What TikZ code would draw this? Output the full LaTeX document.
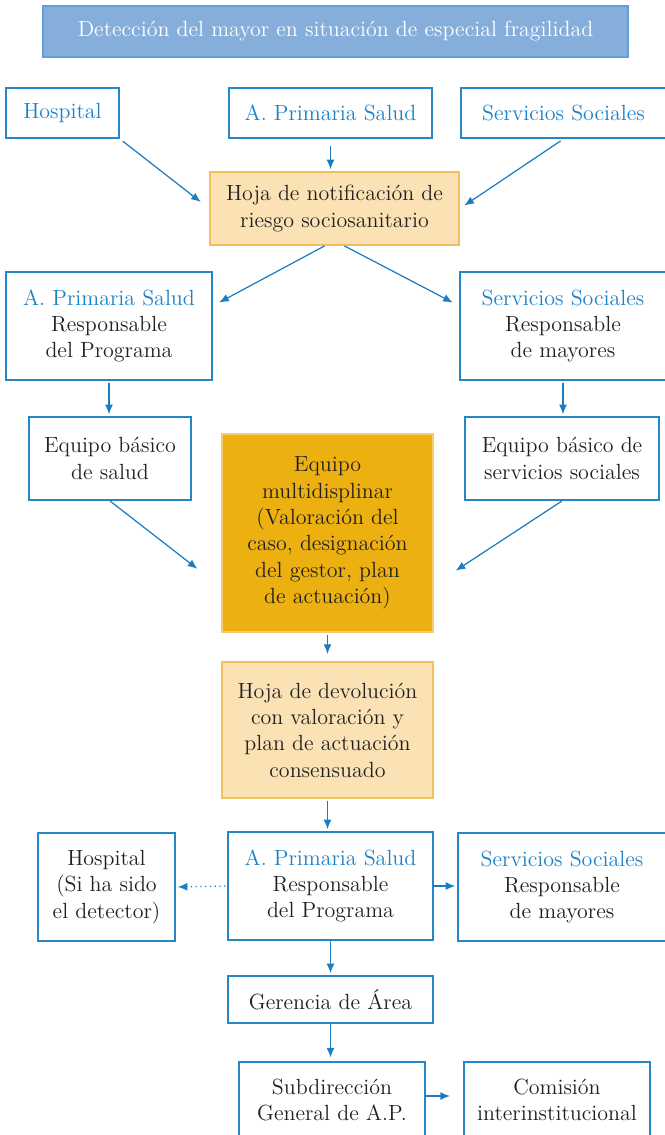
\documentclass[tikz,border=0pt]{standalone}
\usepackage{tikz}
\usetikzlibrary{calc, arrows.meta}

\definecolor{boxblue}{RGB}{38,134,201}
\definecolor{arrowblue}{RGB}{26,124,193}
\definecolor{headblue}{RGB}{26,130,200}
\definecolor{titlefill}{RGB}{134,174,219}
\definecolor{titledraw}{RGB}{95,160,215}
\definecolor{notefill}{RGB}{250,226,180}
\definecolor{notedraw}{RGB}{240,192,90}
\definecolor{teamfill}{RGB}{236,177,17}
\definecolor{teamdraw}{RGB}{248,204,110}
\definecolor{textdark}{RGB}{35,31,32}

\begin{document}
\begin{tikzpicture}[x=0.02cm, y=-0.02cm,
	every node/.style={font=\fontsize{12.5}{15}\selectfont, align=center, text=textdark, inner sep=0pt},
	unit/.style={draw=boxblue, line width=1.1pt, fill=white},
	note/.style={draw=notedraw, line width=1.1pt, fill=notefill},
	arr/.style={-{Latex[length=5.5pt, width=4.5pt]}, draw=arrowblue, line width=0.7pt}]
			\useasboundingbox (0, 0) rectangle (664, 1135);
			
			% cabecera
			\node[draw=titledraw, line width=1.1pt, fill=titlefill, minimum width=11.7cm, minimum height=1.02cm, text=white] (titleBox) at (335.5, 31.5) {Detecci\'on del mayor en situaci\'on de especial fragilidad};
			
			\node[unit, minimum width=2.26cm, minimum height=1cm, text=headblue] (hosp) at (62.5, 113) {Hospital};
			\node[unit, minimum width=4.06cm, minimum height=1cm, text=headblue] (aps) at (330.5, 113) {A. Primaria Salud};
			\node[unit, minimum width=4.1cm, minimum height=1cm, text=headblue] (ss) at (563.5, 113) {Servicios Sociales};
			
			\node[note, minimum width=4.98cm, minimum height=1.46cm] (hojaNot) at (334.5, 208.5) {Hoja de notificaci\'on de\\riesgo sociosanitario};
			
			\node[unit, minimum width=4.12cm, minimum height=2.16cm] (apsResp) at (109, 326) {\textcolor{headblue}{A. Primaria Salud}\\Responsable\\del Programa};
			\node[unit, minimum width=4.12cm, minimum height=2.16cm] (ssResp) at (563, 326) {\textcolor{headblue}{Servicios Sociales}\\Responsable\\de mayores};
			
			\node[unit, minimum width=3.24cm, minimum height=1.66cm] (ebSalud) at (110, 458.5) {Equipo b\'asico\\de salud};
			\node[unit, minimum width=3.88cm, minimum height=1.66cm] (ebSS) at (562, 458.5) {Equipo b\'asico de\\servicios sociales};
			
			\node[draw=teamdraw, line width=1.1pt, fill=teamfill, minimum width=4.22cm, minimum height=3.96cm] (equipo) at (327.5, 533) {Equipo\\multidisplinar\\(Valoraci\'on del\\caso, designaci\'on\\del gestor, plan\\de actuaci\'on)};
			
			\node[note, minimum width=4.22cm, minimum height=2.72cm] (hojaDev) at (327.5, 730) {Hoja de devoluci\'on\\con valoraci\'on y\\plan de actuaci\'on\\consensuado};
			
			\node[unit, minimum width=2.74cm, minimum height=2.16cm] (hospDet) at (106.5, 887) {Hospital\\(Si ha sido\\el detector)};
			\node[unit, minimum width=4.1cm, minimum height=2.16cm] (apsProg) at (330.5, 886) {\textcolor{headblue}{A. Primaria Salud}\\Responsable\\del Programa};
			\node[unit, minimum width=4.16cm, minimum height=2.16cm] (ssMay) at (562, 887) {\textcolor{headblue}{Servicios Sociales}\\Responsable\\de mayores};
			
			\node[unit, minimum width=4.1cm, minimum height=0.94cm] (gerencia) at (330.5, 999.5) {Gerencia de \'Area};
			\node[unit, minimum width=3.72cm, minimum height=1.52cm] (subdir) at (332, 1100) {Subdirecci\'on\\General de A.P.};
			\node[unit, minimum width=3.72cm, minimum height=1.52cm] (comision) at (557, 1100) {Comisi\'on\\interinstitucional};
			
			% flechas
			\draw[arr, shorten <=2pt, shorten >=6pt] (hosp.south east) -- (hojaNot.west);
			\draw[arr, shorten <=4pt, shorten >=1pt] (aps.south) -- (aps.south |- hojaNot.north);
			\draw[arr, shorten <=2pt, shorten >=3pt] (ss.south) -- (hojaNot.east);
			
			\draw[arr, shorten >=4pt] ([xshift=-0.2cm]hojaNot.south) -- (apsResp.11);
			\draw[arr, shorten >=4pt] ([xshift=0.2cm]hojaNot.south) -- (ssResp.169);
			
			\draw[arr, shorten <=1pt, shorten >=1pt] (apsResp.south) -- (apsResp.south |- ebSalud.north);
			\draw[arr, shorten <=1pt, shorten >=1pt] (ssResp.south) -- (ssResp.south |- ebSS.north);
			
			\draw[arr, shorten >=0.6cm] (ebSalud.south) -- (equipo.207);
			\draw[arr, shorten >=0.52cm] (ebSS.south) -- (equipo.334);
			
			\draw[arr, shorten <=1pt, shorten >=4pt] (equipo.south) -- (hojaDev.north);
			\draw[arr, shorten <=1pt, shorten >=1pt] (hojaDev.south) -- (hojaDev.south |- apsProg.north);
			
			\draw[arr, dotted, shorten <=1pt, shorten >=1pt] (apsProg.west) -- (hospDet.east);
			\draw[arr, shorten >=1pt] (apsProg.east) -- (apsProg.east -| ssMay.west);
			\draw[arr, shorten >=1pt] (apsProg.south) -- (gerencia.north);
			\draw[arr, shorten >=2pt] (gerencia.south) -- (gerencia.south |- subdir.north);
			\draw[arr, shorten >=0.26cm] ([yshift=0.08cm]subdir.east) -- ([yshift=0.08cm]comision.west);
			
		\end{tikzpicture}
\end{document}
